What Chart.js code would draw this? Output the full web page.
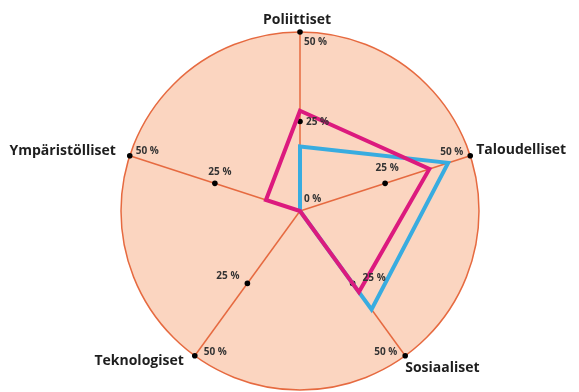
<!DOCTYPE html>
<html>
<head>
<meta charset="utf-8">
<script src="https://cdn.jsdelivr.net/npm/chart.js@4"></script>
<style>
  html, body { margin: 0; padding: 0; background: #fff; }
  #wrap { width: 579px; height: 392px; }
</style>
</head>
<body>
<div id="wrap"><canvas id="myChart" width="579" height="392"></canvas></div>
<script>
const labels = ["Poliittiset", "Taloudelliset", "Sosiaaliset", "Teknologiset", "Ympäristölliset"];
const magentaValues = [28, 38, 28, 0, 10];
const blueValues = [18, 43.5, 34, 0, 0];
const tickValues = [25, 50];
const tickText = ["25 %", "50 %"];
const zeroText = "0 %";

// label placement around each spoke: [dx, dy, align] for 25 %, 50 % and axis name
const tickPlace = [
  [[6, 1, "left"], [4, 10, "left"], [-3, -12, "center"]],
  [[2, -15, "center"], [-7, -4, "right"], [6, -6, "left"]],
  [[10, -5, "left"], [-8, -4, "right"], [0, 12, "left"]],
  [[-8, -7, "right"], [9, -4, "left"], [-11, 5, "right"]],
  [[5, -11, "center"], [6, -5, "left"], [-14, -5, "right"]],
];

const spokeDots = {
  id: "spokeDots",
  beforeDatasetsDraw(chart) {
    const r = chart.scales.r;
    const ctx = chart.ctx;
    ctx.save();
    ctx.fillStyle = "#000";
    labels.forEach((l, i) => {
      tickValues.forEach((v) => {
        const p = r.getPointPositionForValue(i, v);
        ctx.beginPath();
        ctx.arc(p.x, p.y, 2.8, 0, Math.PI * 2);
        ctx.fill();
      });
    });
    ctx.restore();
  },
  afterDatasetsDraw(chart) {
    const r = chart.scales.r;
    const ctx = chart.ctx;
    ctx.save();
    ctx.textBaseline = "middle";
    ctx.fillStyle = "#333";
    ctx.font = "bold 10px 'Open Sans'";
    labels.forEach((l, i) => {
      tickValues.forEach((v, k) => {
        const p = r.getPointPositionForValue(i, v);
        const pl = tickPlace[i][k];
        ctx.textAlign = pl[2];
        ctx.fillText(tickText[k], p.x + pl[0], p.y + pl[1]);
      });
    });
    ctx.textAlign = "left";
    ctx.fillText(zeroText, r.xCenter + 4, r.yCenter - 12);

    ctx.fillStyle = "#1e1e1e";
    ctx.font = "bold 14px 'Open Sans'";
    labels.forEach((l, i) => {
      const p = r.getPointPositionForValue(i, 50);
      const pl = tickPlace[i][2];
      ctx.textAlign = pl[2];
      ctx.fillText(l, p.x + pl[0], p.y + pl[1]);
    });
    ctx.restore();
  },
};

const data = {
  labels: labels,
  datasets: [
    {
      data: magentaValues,
      borderColor: "#dc1a7e",
      borderWidth: 4,
      borderJoinStyle: "miter",
      fill: false,
      pointRadius: 0,
    },
    {
      data: blueValues,
      borderColor: "#38ace0",
      borderWidth: 4,
      borderJoinStyle: "miter",
      fill: false,
      pointRadius: 0,
    },
  ],
};

const config = {
  type: "radar",
  data: data,
  options: {
    responsive: false,
    animation: false,
    layout: { padding: { left: 121, right: 100, top: 32, bottom: 2 } },
    plugins: { legend: { display: false }, tooltip: { enabled: false } },
    elements: { line: { tension: 0 } },
    scales: {
      r: {
        min: 0,
        max: 50,
        backgroundColor: "#fbd5c0",
        ticks: { display: false, stepSize: 50 },
        pointLabels: { display: false },
        grid: { circular: true, color: "#e66a40", lineWidth: 1.5 },
        angleLines: { color: "#e66a40", lineWidth: 1.5 },
      },
    },
  },
  plugins: [spokeDots],
};
var myChart = new Chart(document.getElementById("myChart"), config);
</script>
</body>
</html>
